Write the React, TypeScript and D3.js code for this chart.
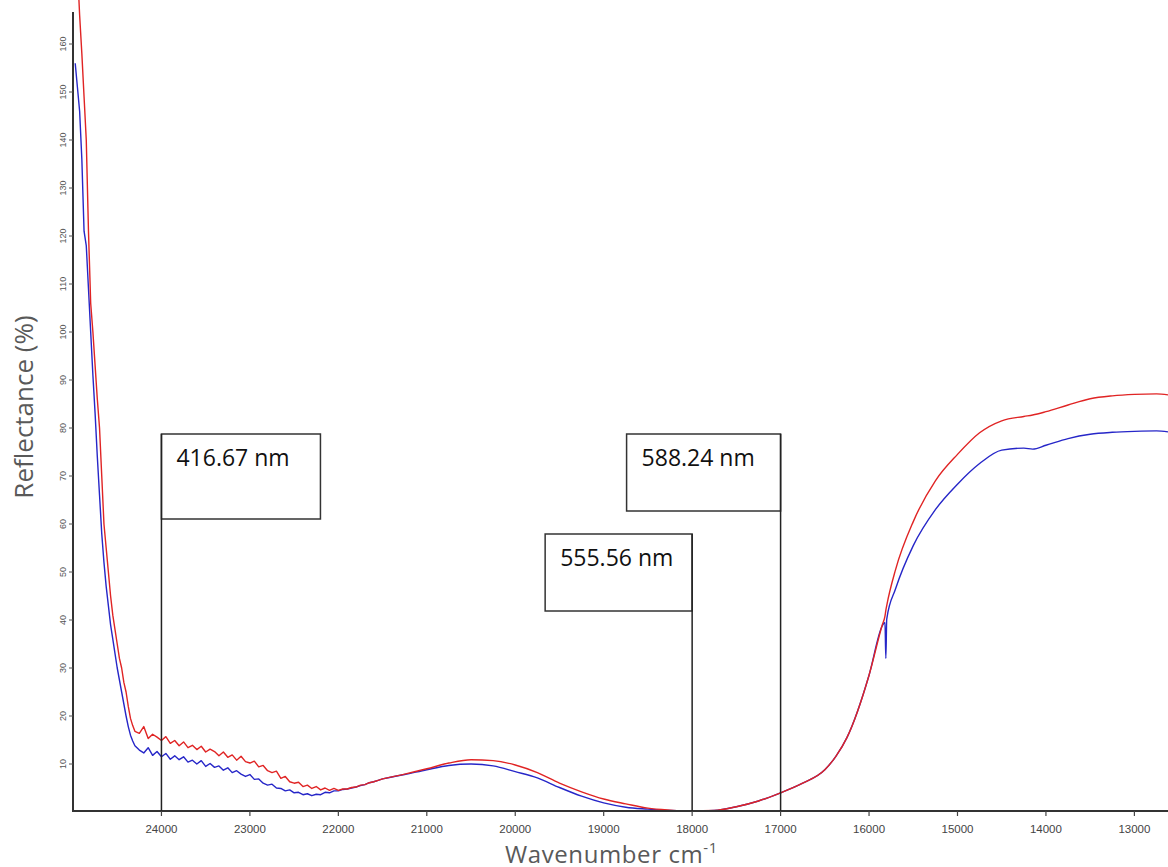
import React from "react";
import * as d3 from "d3";

// wavenumber grid (cm-1), shared by both spectra
const wavenumbers = [
  24975, 24950, 24925, 24900, 24875, 24850, 24825, 24800, 24775, 24750,
  24725, 24700, 24675, 24650, 24625, 24600, 24575, 24550, 24525, 24500,
  24475, 24450, 24425, 24400, 24375, 24350, 24325, 24300,
  24250, 24200, 24150, 24100, 24050, 24000, 23950, 23900, 23850, 23800,
  23750, 23700, 23650, 23600, 23550, 23500, 23450, 23400, 23350, 23300,
  23250, 23200, 23150, 23100, 23050, 23000, 22950, 22900, 22850, 22800,
  22750, 22700, 22650, 22600, 22550, 22500, 22450, 22400, 22350, 22300,
  22250, 22200, 22150, 22100, 22050, 22000, 21950, 21900, 21850, 21800,
  21750, 21700, 21650, 21600, 21550, 21500,
  21250, 21000, 20750, 20500, 20250, 20000, 19750, 19500, 19250, 19000,
  18750, 18500, 18250, 18000, 17750, 17500, 17250, 17000, 16750, 16500,
  16375, 16250, 16000, 15850, 15820, 15810, 15800, 15700, 15500, 15250,
  15000, 14750, 14500, 14250, 14150, 14000, 13750, 13500, 13250, 13000,
  12750, 12620,
];

// upper (red) spectrum, reflectance %
const redReflectance = [
  185, 176, 166, 158, 149, 140, 121, 106, 100, 93,
  86, 80, 70, 60, 55, 50, 45, 41, 38, 35,
  32, 30, 27, 25, 22, 19.5, 18, 16.8,
  16.4, 17.8, 15.3, 16.2, 15.6, 14.9, 15.7, 14.3, 14.9, 13.8,
  14.6, 13.4, 13.9, 13.0, 13.7, 12.5, 13.1, 12.6, 11.7, 12.5,
  11.4, 11.9, 10.8, 11.6, 10.5, 10.2, 10.6, 9.4, 9.7, 8.6,
  8.2, 8.5, 7.0, 7.4, 6.3, 6.0, 6.2, 5.3, 5.6, 4.9,
  5.3, 4.6, 5.0, 4.5, 4.9, 4.5, 4.8, 4.8, 5.1, 5.2,
  5.6, 5.7, 6.1, 6.3, 6.6, 6.9,
  7.9, 9.0, 10.2, 10.9, 10.7, 9.8, 8.2, 6.0, 4.2, 2.7,
  1.7, 0.8, 0.4, 0.2, 0.3, 1.1, 2.3, 4.0, 6.0, 8.8,
  11.6, 15.5, 28.5, 39.0, 40.8, 42.0, 43.0, 50.5, 60.5, 69.0,
  74.5, 79.0, 81.5, 82.4, 82.7, 83.4, 84.8, 86.1, 86.7, 87.0,
  87.1, 86.9,
];

// lower (blue) spectrum, reflectance %
const blueReflectance = [
  156, 151, 146, 136, 121, 118, 109, 100, 91, 83,
  74, 66, 58, 52, 47, 43, 39, 36, 33, 30,
  27.5, 25, 22.5, 20, 17.8, 16, 14.8, 13.8,
  12.9, 12.3, 13.4, 11.8, 12.6, 11.5, 12.2, 11.0, 11.7, 10.9,
  11.5, 10.4, 10.8, 10.0, 10.7, 9.5, 10.1, 9.3, 9.6, 8.7,
  9.2, 8.2, 8.6, 7.9, 7.4, 7.8, 6.8, 6.9, 6.0, 5.6,
  5.8, 5.0, 4.9, 4.4, 4.6, 4.0, 4.1, 3.6, 3.8, 3.4,
  3.7, 3.6, 4.1, 4.0, 4.4, 4.4, 4.7, 4.8, 5.0, 5.2,
  5.5, 5.7, 6.1, 6.3, 6.6, 6.9,
  7.8, 8.8, 9.7, 10.0, 9.6, 8.4, 7.1, 5.1, 3.3, 1.9,
  1.0, 0.6, 0.3, 0.15, 0.3, 1.1, 2.3, 4.0, 6.0, 8.8,
  11.6, 15.5, 28.5, 38.8, 39.5, 32.0, 40.2, 46.5, 55.5, 63.0,
  68.3, 72.6, 75.4, 75.8, 75.6, 76.4, 77.8, 78.7, 79.1, 79.3,
  79.4, 79.2,
];

// the noisy blue-violet end (up to 21500 cm-1) is drawn point to point
const noisyEnd = 83;

const yTicks = [10, 20, 30, 40, 50, 60, 70, 80, 90, 100, 110, 120, 130, 140, 150, 160];
const xTicks = [24000, 23000, 22000, 21000, 20000, 19000, 18000, 17000, 16000, 15000, 14000, 13000];

// marked wavelengths
const markerLabels = ["416.67 nm", "555.56 nm", "588.24 nm"];
const markerWavenumbers = [24000, 18000, 17000];

// box geometry for the markers (line runs along the anchored side)
const boxLayout = [
  { side: "left", top: 434, w: 159, h: 85 },
  { side: "right", top: 534, w: 147, h: 77 },
  { side: "right", top: 434, w: 154, h: 77 },
];

const W = 1168;
const H = 867;
const axisY = 811;
const axisX = 73;

const x = d3.scaleLinear().domain([25000, 12620]).range([73, 1168]);
const y = d3.scaleLinear().domain([0, 167.5]).range([812, 8]);

const noisyLine = d3
  .line<[number, number]>()
  .x((d) => x(d[0]))
  .y((d) => y(d[1]));

const smoothLine = d3
  .line<[number, number]>()
  .x((d) => x(d[0]))
  .y((d) => y(d[1]))
  .curve(d3.curveMonotoneX);

function spectrumPath(values: number[]) {
  const pts = values.map((v, i) => [wavenumbers[i], v] as [number, number]);
  return (noisyLine(pts.slice(0, noisyEnd + 1)) || "") + (smoothLine(pts.slice(noisyEnd)) || "");
}

const tickFont = "'Liberation Sans', Arial, sans-serif";
const titleFont = "'Open Sans', 'Noto Sans', sans-serif";

export default function App() {
  return (
    <svg
      width={W}
      height={H}
      style={{ position: "absolute", left: 0, top: 0, background: "#fff", display: "block" }}
    >
      {/* spectra */}
      <path d={spectrumPath(blueReflectance)} fill="none" stroke="#2626c8" strokeWidth={1.4} strokeLinejoin="round" />
      <path d={spectrumPath(redReflectance)} fill="none" stroke="#e02424" strokeWidth={1.4} strokeLinejoin="round" />

      {/* axes */}
      <line x1={axisX} x2={axisX} y1={12} y2={axisY + 1} stroke="#333" strokeWidth={2} />
      <line x1={axisX - 1} x2={W} y1={axisY} y2={axisY} stroke="#333" strokeWidth={2} />

      {yTicks.map((t) => (
        <g key={"y" + t}>
          <line x1={axisX - 4} x2={axisX} y1={y(t)} y2={y(t)} stroke="#555" strokeWidth={1} />
          <text
            transform={`translate(66,${y(t)}) rotate(-90)`}
            textAnchor="middle"
            fontFamily={tickFont}
            fontSize={9}
            fill="#555"
          >
            {t}
          </text>
        </g>
      ))}

      {xTicks.map((t) => (
        <g key={"x" + t}>
          <line x1={x(t)} x2={x(t)} y1={axisY} y2={axisY + 5} stroke="#444" strokeWidth={1.2} />
          <text x={x(t)} y={833} textAnchor="middle" fontFamily={tickFont} fontSize={11.5} fill="#444">
            {t}
          </text>
        </g>
      ))}

      {/* axis titles */}
      <text
        transform="translate(33,407) rotate(-90)"
        textAnchor="middle"
        fontFamily={titleFont}
        fontSize={26}
        fill="#595959"
      >
        Reflectance (%)
      </text>
      <text x={505} y={863} fontFamily={titleFont} fontSize={24} fill="#595959" letterSpacing={0.6}>
        Wavenumber cm
        <tspan dy={-10} fontSize={15}>-1</tspan>
      </text>

      {/* wavelength markers */}
      {markerWavenumbers.map((wn, i) => {
        const b = boxLayout[i];
        const lx = x(wn);
        const left = b.side === "left" ? lx : lx - b.w;
        return (
          <g key={"m" + i}>
            <rect x={left} y={b.top} width={b.w} height={b.h} fill="#fff" stroke="#333" strokeWidth={1.5} />
            <line x1={lx} x2={lx} y1={b.top} y2={axisY} stroke="#222" strokeWidth={1.5} />
            <text x={left + 15} y={b.top + 32} fontFamily={titleFont} fontSize={23} fill="#111">
              {markerLabels[i]}
            </text>
          </g>
        );
      })}
    </svg>
  );
}
